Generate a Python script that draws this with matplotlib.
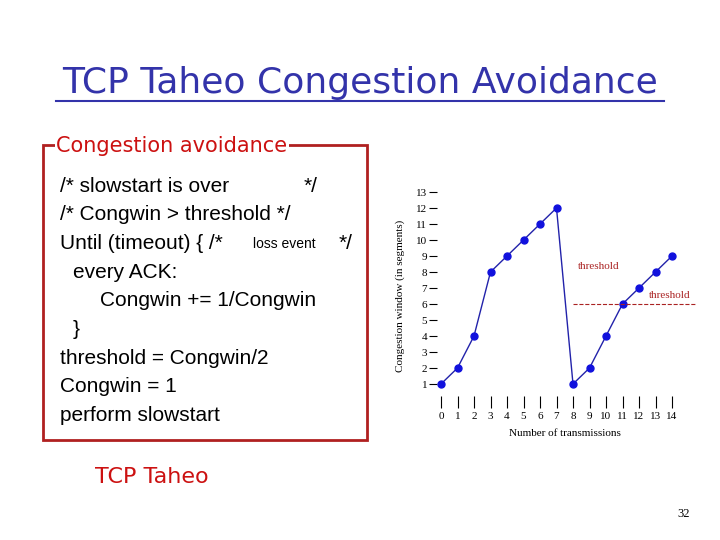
import matplotlib
matplotlib.use("Agg")
import matplotlib.pyplot as plt
from matplotlib.patches import Rectangle

# datos de la grafica
transmisiones = list(range(15))
congwin = [1, 2, 4, 8, 9, 10, 11, 12, 1, 2, 4, 6, 7, 8, 9]
umbral = 6
yticks = list(range(1, 14))

lineas_codigo = [
    "/* slowstart is over",
    "/* Congwin > threshold */",
    "Until (timeout) { /* ",
    "  every ACK:",
    "      Congwin += 1/Congwin",
    "  }",
    "threshold = Congwin/2",
    "Congwin = 1",
    "perform slowstart",
]
sangria = [60, 60, 60, 73, 100, 73, 60, 60, 60]

W, H = 720, 540
fig = plt.figure(figsize=(7.2, 5.4), dpi=100)

def px(x, y):
    return x / W, 1 - y / H

azul = "#3333aa"
rojo = "#cc1111"

# titulo subrayado
fig.text(*px(360, 83), "TCP Taheo Congestion Avoidance", ha="center", va="center",
         fontsize=26, color=azul)
fig.add_artist(plt.Line2D([56 / W, 664 / W], [1 - 101 / H, 1 - 101 / H], color=azul, lw=1.5))

# caja del algoritmo
fig.add_artist(Rectangle(px(43, 440), 324 / W, 295 / H, fill=False, ec="#b02020", lw=2))
fig.text(*px(56, 146), "Congestion avoidance", ha="left", va="center", fontsize=15,
         color=rojo, bbox=dict(fc="white", ec="none", pad=1))

y0 = 186
for i, l in enumerate(lineas_codigo):
    fig.text(*px(sangria[i], y0 + i * 28.7), l.strip(), ha="left", va="center", fontsize=15,
             family="Liberation Sans")
fig.text(*px(304, y0), "*/", ha="left", va="center", fontsize=15, family="Liberation Sans")
fig.text(*px(253, y0 + 2 * 28.7 + 1), "loss event", ha="left", va="center", fontsize=10,
         family="Liberation Sans")
fig.text(*px(339, y0 + 2 * 28.7), "*/", ha="left", va="center", fontsize=15,
         family="Liberation Sans")

fig.text(*px(95, 477), "TCP Taheo", ha="left", va="center", fontsize=16, color=rojo)
fig.text(*px(690, 514), "32", ha="right", va="center", fontsize=9, family="Liberation Serif")

# grafica de la ventana
ax = fig.add_axes([432.75 / W, (540 - 408) / H, 264 / W, 224 / H])
ax.plot(transmisiones, congwin, color="#2222aa", lw=1, marker="o", ms=5,
        mfc="#1111dd", mec="#1111dd")
ax.plot([8, 15.5], [umbral, umbral], ls="--", color="#aa2222", lw=0.8)
ax.text(8.3, 8.2, "threshold", color="#aa2222", fontsize=8, family="Liberation Serif")
ax.text(12.6, 6.4, "threshold", color="#aa2222", fontsize=8, family="Liberation Serif")
ax.set_xlim(-0.5, 15.5)
ax.set_ylim(-0.5, 13.5)
for s in ax.spines.values():
    s.set_visible(False)
ax.set_xticks(transmisiones)
ax.set_yticks(yticks)
ax.tick_params(axis="x", direction="in", length=9, width=0.8, labelsize=8, pad=3)
ax.tick_params(axis="y", direction="inout", length=6, width=0.8, labelsize=8, pad=1)
for t in ax.get_xticklabels() + ax.get_yticklabels():
    t.set_family("Liberation Serif")
ax.set_xlabel("Number of transmissions", fontsize=8, family="Liberation Serif", labelpad=6)
ax.set_ylabel("Congestion window (in segments)", fontsize=8, family="Liberation Serif",
              labelpad=8)

fig.savefig("out.png", dpi=100)
